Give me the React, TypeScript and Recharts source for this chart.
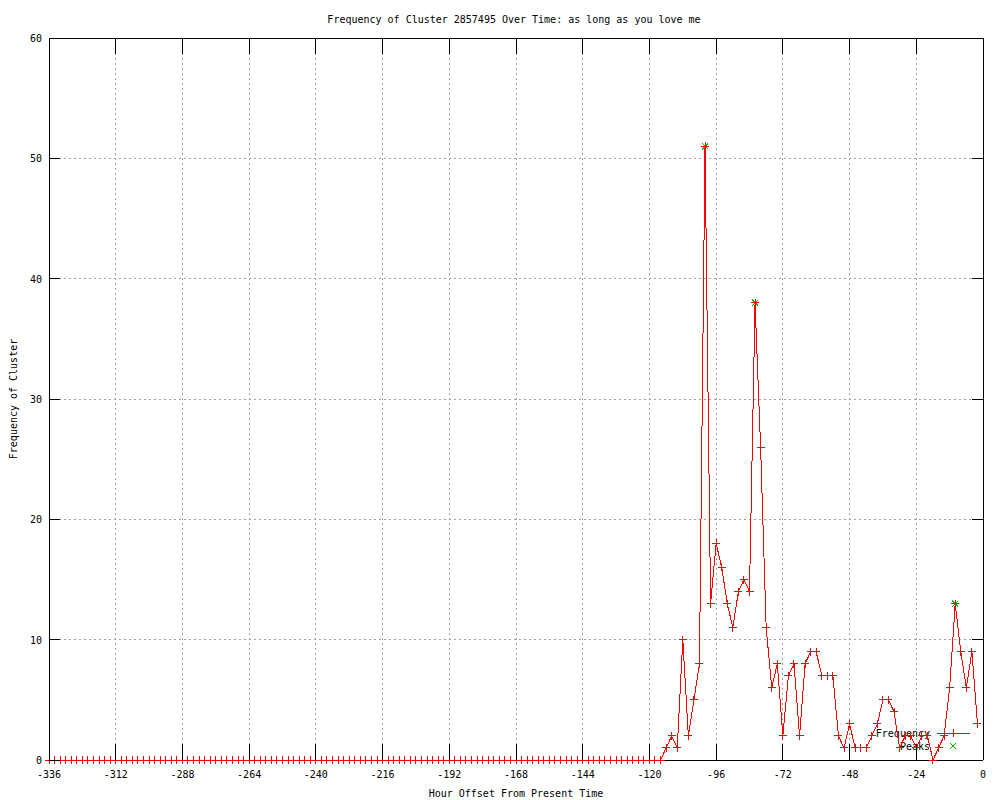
import React from 'react';
import { LineChart, Line, XAxis, YAxis, CartesianGrid, ReferenceLine } from 'recharts';

// cluster frequency, one value every 2 hours from -336 to -2
const frequency: number[] = [
  0, 0, 0, 0, 0, 0, 0, 0, 0, 0, 0, 0, 0, 0, 0, 0, 0, 0, 0, 0, 0, 0, 0, 0,
  0, 0, 0, 0, 0, 0, 0, 0, 0, 0, 0, 0, 0, 0, 0, 0, 0, 0, 0, 0, 0, 0, 0, 0,
  0, 0, 0, 0, 0, 0, 0, 0, 0, 0, 0, 0, 0, 0, 0, 0, 0, 0, 0, 0, 0, 0, 0, 0,
  0, 0, 0, 0, 0, 0, 0, 0, 0, 0, 0, 0, 0, 0, 0, 0, 0, 0, 0, 0, 0, 0, 0, 0,
  0, 0, 0, 0, 0, 0, 0, 0, 0, 0, 0, 0, 0, 0, 0,
  1, 2, 1, 10, 2, 5, 8, 51, 13, 18, 16, 13, 11, 14, 15, 14, 38, 26, 11, 6,
  8, 2, 7, 8, 2, 8, 9, 9, 7, 7, 7, 2, 1, 3, 1, 1, 1, 2, 3, 5,
  5, 4, 1, 2, 2, 1, 2, 2, 0, 1, 2, 6, 13, 9, 6, 9, 3,
];
// hour offsets: regular 2 hour step
const hours = frequency.map((_, i) => -336 + 2 * i);

const peakHours = [-100, -82, -10];
const peakValues = [51, 38, 13];

const xTicks = [-336, -312, -288, -264, -240, -216, -192, -168, -144, -120, -96, -72, -48, -24, 0];
const yTicks = [0, 10, 20, 30, 40, 50, 60];

const chartData = hours.map((hour, i) => {
  const p = peakHours.indexOf(hour);
  return { hour, frequency: frequency[i], peaks: p >= 0 ? peakValues[p] : null };
});

const FONT = '"DejaVu Sans Mono", monospace';
const PLOT_TOP = 38;
const PLOT_RIGHT = 983;
const RED = '#ff0000';
const GREEN = '#00c000';

const XTick = ({ x, y, payload }: any) => (
  <g>
    <line x1={x} y1={y} x2={x} y2={y - 16} stroke="#000" />
    <line x1={x} y1={PLOT_TOP} x2={x} y2={PLOT_TOP + 16} stroke="#000" />
    <text x={x} y={y + 18} textAnchor="middle" fontSize={10} fill="#000">{payload.value}</text>
  </g>
);

const YTick = ({ x, y, payload }: any) => (
  <g>
    <line x1={x} y1={y} x2={x + 11} y2={y} stroke="#000" />
    <line x1={PLOT_RIGHT} y1={y} x2={PLOT_RIGHT - 11} y2={y} stroke="#000" />
    <text x={x - 7} y={y + 4} textAnchor="end" fontSize={10} fill="#000">{payload.value}</text>
  </g>
);

const plusDot = (props: any) => {
  const { cx, cy, index } = props;
  if (cx == null || cy == null) return <g key={`f${index}`} />;
  return (
    <path key={`f${index}`} d={`M${cx - 4},${cy}H${cx + 4}M${cx},${cy - 4}V${cy + 4}`} stroke={RED} fill="none" />
  );
};

const crossDot = (props: any) => {
  const { cx, cy, index } = props;
  if (cx == null || cy == null) return <g key={`p${index}`} />;
  return (
    <path
      key={`p${index}`}
      d={`M${cx - 3},${cy - 3}L${cx + 3},${cy + 3}M${cx + 3},${cy - 3}L${cx - 3},${cy + 3}`}
      stroke={GREEN}
      fill="none"
    />
  );
};

// gnuplot style key, bottom right inside the plot
const Key = () => (
  <g fontSize={10} fill="#000">
    <text x={930} y={736.7} textAnchor="end">Frequency</text>
    <line x1={937} y1={733} x2={970} y2={733} stroke={RED} />
    <path d="M949,733H957M953,729V737" stroke={RED} fill="none" />
    <text x={930} y={749.7} textAnchor="end">Peaks</text>
    <path d="M950,743L956,749M956,743L950,749" stroke={GREEN} fill="none" />
  </g>
);

export default function App() {
  return (
    <div
      style={{
        position: 'absolute',
        left: 0,
        top: 0,
        width: 1000,
        height: 800,
        background: '#fff',
        fontFamily: FONT,
        shapeRendering: 'crispEdges',
      }}
    >
      <LineChart width={1000} height={800} data={chartData} margin={{ top: 38, right: 17, bottom: 0, left: 0 }}>
        <text x={514} y={22.7} textAnchor="middle" fontSize={10} fill="#000">
          Frequency of Cluster 2857495 Over Time: as long as you love me
        </text>
        <CartesianGrid stroke="#a0a0a0" strokeDasharray="2 3" />
        <XAxis
          dataKey="hour"
          type="number"
          domain={[-336, 0]}
          ticks={xTicks}
          interval={0}
          height={40}
          tickSize={0}
          tickMargin={0}
          tickLine={false}
          axisLine={{ stroke: '#000' }}
          tick={<XTick />}
          label={{ value: 'Hour Offset From Present Time', position: 'insideBottom', offset: 3, fontSize: 10, fill: '#000' }}
        />
        <YAxis
          type="number"
          domain={[0, 60]}
          ticks={yTicks}
          interval={0}
          width={49}
          tickSize={0}
          tickMargin={0}
          tickLine={false}
          axisLine={{ stroke: '#000' }}
          tick={<YTick />}
          label={{
            value: 'Frequency of Cluster',
            angle: -90,
            position: 'insideLeft',
            offset: 13,
            fontSize: 10,
            fill: '#000',
            style: { textAnchor: 'middle' },
          }}
        />
        <ReferenceLine y={60} stroke="#000" />
        <ReferenceLine x={0} stroke="#000" />
        <Line
          dataKey="peaks"
          stroke="none"
          dot={crossDot}
          activeDot={false}
          isAnimationActive={false}
        />
        <Line
          dataKey="frequency"
          type="linear"
          stroke={RED}
          strokeWidth={1}
          dot={plusDot}
          activeDot={false}
          isAnimationActive={false}
        />
        <Key />
      </LineChart>
    </div>
  );
}
